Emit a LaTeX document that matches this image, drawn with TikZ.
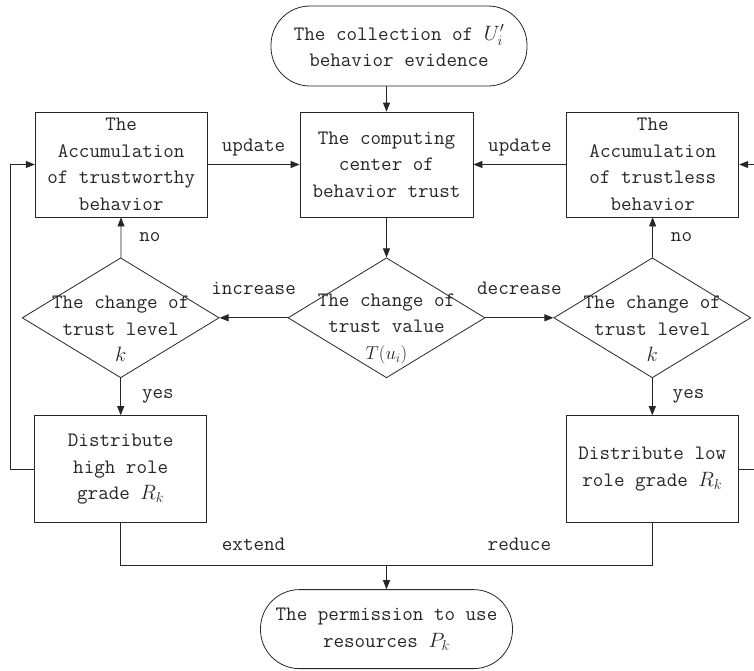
\documentclass[tikz,border=0pt]{standalone}
\usepackage{fontspec}
\usetikzlibrary{positioning,arrows.meta,shapes.geometric}

\begin{document}
\begin{tikzpicture}[font=\fontsize{20.5pt}{26.5pt}\selectfont\ttfamily,
  line width=0.8pt, color=black!85,
  box/.style={draw, align=center, inner sep=2pt, minimum width=172pt,
              minimum height=105pt},
  term/.style={draw, rounded corners=39pt, align=center, inner sep=3pt,
              minimum width=256pt, minimum height=80pt},
  dia/.style={draw, diamond, minimum width=197pt, minimum height=120pt,
              inner sep=0pt},
  dtext/.style={align=center, yshift=-11pt},
  lbl/.style={inner sep=0pt},
  arr/.style={-{Triangle[length=9pt,width=7pt]}}]
\useasboundingbox (0pt,0pt) rectangle (754pt,-670pt);
\node[box, minimum width=173pt] (cc) at (386.5pt,-164.5pt)
  {The computing\\center of\\behavior trust};
\node[term] (src) at (399pt,-46pt) {The collection of $U_i'$\\behavior evidence};
\node[box, left=92pt of cc] (good) {The\\Accumulation\\of trustworthy\\behavior};
\node[box, right=93pt of cc] (bad) {The\\Accumulation\\of trustless\\behavior};
\node[dia, below=40pt of cc,
  label={[dtext]center:{The change of\\trust value\\\scalebox{0.9}{$T(u_i)$}}}] (chg) {};
\node[dia, left=68pt of chg,
  label={[dtext]center:{The change of\\trust level\\$k$}}] (lvlL) {};
\node[dia, right=68pt of chg,
  label={[dtext]center:{The change of\\trust level\\$k$}}] (lvlR) {};
\node[box, below=37pt of lvlL, minimum height=107pt] (hiR)
  {Distribute\\high role\\grade $R_k$};
\node[box, below=37pt of lvlR, minimum height=107pt] (loR)
  {Distribute low\\role grade $R_k$};
\node[term, below=211pt of chg, minimum width=252pt, minimum height=79pt] (perm)
  {The permission to use\\resources $P_k$};
\coordinate[above=24pt of perm] (jn);
\draw[arr] (src.south -| cc.north) -- (cc.north);
\draw[arr] (cc) -- (chg);
\draw[arr] (chg) -- node[lbl, above=23pt]{increase} (lvlL);
\draw[arr] (chg) -- node[lbl, above=23pt]{decrease} (lvlR);
\draw[arr] (lvlL) -- node[lbl, right=18pt]{no} (good);
\draw[arr] (lvlR) -- node[lbl, right=18pt]{no} (bad);
\draw[arr] (lvlL) -- node[lbl, right=21pt]{yes} (hiR);
\draw[arr] (lvlR) -- node[lbl, right=20pt]{yes} (loR);
\draw[arr] (good) -- node[lbl, above=8pt]{update} (cc);
\draw[arr] (bad) -- node[lbl, above=8pt]{update} (cc);
\draw[arr] (hiR.west) -- ++(-24pt,0) |- (good.west);
\draw[arr] (loR.east) -- ++(16pt,0) |- (bad.east);
\draw (hiR) |- node[lbl, pos=0.75, above=14pt]{extend} (jn);
\draw (loR) |- node[lbl, pos=0.75, above=14pt]{reduce} (jn);
\draw[arr] (jn) -- (perm);
\end{tikzpicture}
\end{document}
